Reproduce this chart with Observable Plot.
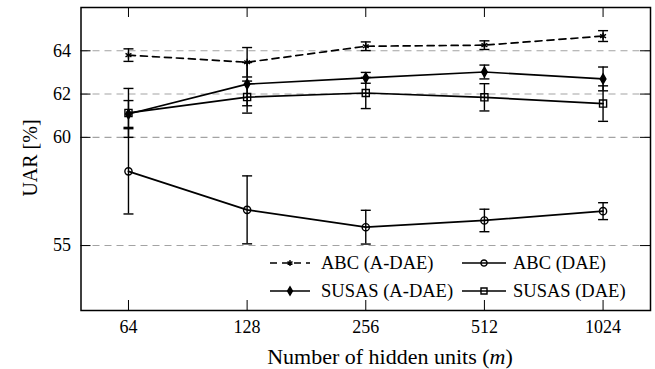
<!DOCTYPE html>
<html><head><meta charset="utf-8">
<script src="https://cdn.jsdelivr.net/npm/d3@7"></script>
<script src="https://cdn.jsdelivr.net/npm/@observablehq/plot@0.6"></script>
<style>
body{margin:0;background:#fff;}
#wrap{position:relative;width:655px;height:369px;}
#wrap svg, #wrap svg text, #wrap svg tspan{font-family:"Liberation Serif","DejaVu Serif","Times New Roman",serif !important;}
</style></head><body><div id="wrap"></div>
<script>
// ---- data ----
const hiddenUnits = [64, 128, 256, 512, 1024];
const xTicks = [64, 128, 256, 512, 1024];
const yTicks = [55, 60, 62, 64];
const seriesNames = ["ABC (A-DAE)", "ABC (DAE)", "SUSAS (A-DAE)", "SUSAS (DAE)"];
const abcADAE      = [63.80, 63.47, 64.21, 64.26, 64.68];
const abcADAEErr   = [0.29, 0.68, 0.20, 0.20, 0.25];
const abcDAE       = [58.43, 56.65, 55.85, 56.16, 56.59];
const abcDAEErr    = [1.97, 1.57, 0.78, 0.52, 0.39];
const susasADAE    = [61.08, 62.46, 62.75, 63.02, 62.70];
const susasADAEErr = [0.62, 1.00, 0.25, 0.32, 0.55];
const susasDAE     = [61.13, 61.86, 62.05, 61.85, 61.56];
const susasDAEErr  = [1.13, 0.74, 0.72, 0.63, 0.82];
const xDomain = [48.5, 1351];
const yDomain = [52, 66];

// ---- styles ----
const W = 655, H = 369, mL = 80.5, mR = 5, mT = 7, mB = 59;
const frameW = W - mL - mR, frameH = H - mT - mB;
const seriesValues = [abcADAE, abcDAE, susasADAE, susasDAE];
const seriesErrs = [abcADAEErr, abcDAEErr, susasADAEErr, susasDAEErr];
const seriesDash = ["7,5", null, null, null];
const seriesSymbol = ["asterisk", "circle", "diamond", "square"];
const seriesFill = ["none", "none", "black", "none"];
const seriesR = [3.2, 3.6, 3.0, 4.0];
const font = '"Liberation Serif","DejaVu Serif","Times New Roman",serif';

const rows = [];
seriesNames.forEach((name, s) => hiddenUnits.forEach((x, i) =>
  rows.push({series: name, s, x, y: seriesValues[s][i], err: seriesErrs[s][i]})));

const capSymbol = {draw(ctx, size) { const w = Math.sqrt(size / Math.PI); ctx.moveTo(-w, 0); ctx.lineTo(w, 0); }};

const marks = [
  Plot.gridY(yTicks, {stroke: "#a3a3a3", strokeOpacity: 1, strokeWidth: 1.1, strokeDasharray: "7,5"}),
];
seriesNames.forEach((name, s) => {
  const d = rows.filter(r => r.s === s);
  marks.push(Plot.line(d, {x: "x", y: "y", stroke: "black", strokeWidth: 1.7, strokeDasharray: seriesDash[s]}));
});
marks.push(
  Plot.ruleX(rows, {x: "x", y1: d => d.y - d.err, y2: d => d.y + d.err, stroke: "black", strokeWidth: 1.4}),
  Plot.dot(rows, {x: "x", y: d => d.y - d.err, symbol: capSymbol, r: 5, stroke: "black", strokeWidth: 1.4}),
  Plot.dot(rows, {x: "x", y: d => d.y + d.err, symbol: capSymbol, r: 5, stroke: "black", strokeWidth: 1.4})
);
seriesNames.forEach((name, s) => {
  const d = rows.filter(r => r.s === s);
  marks.push(Plot.dot(d, {x: "x", y: "y", symbol: seriesSymbol[s], r: seriesR[s], stroke: "black",
    fill: seriesFill[s], strokeWidth: 1.4}));
});
marks.push(
  Plot.tickX(xTicks, {x: d => d, insetTop: frameH - 10, stroke: "black", strokeWidth: 1}),
  Plot.tickX(xTicks, {x: d => d, insetBottom: frameH - 10, stroke: "black", strokeWidth: 1}),
  Plot.tickY(yTicks, {y: d => d, insetRight: frameW - 10, stroke: "black", strokeWidth: 1}),
  Plot.tickY(yTicks, {y: d => d, insetLeft: frameW - 10, stroke: "black", strokeWidth: 1}),
  Plot.axisX(xTicks, {anchor: "bottom", tickSize: 0, tickPadding: 10, tickFormat: d => String(d), fontSize: 18, label: null}),
  Plot.axisY(yTicks, {anchor: "left", tickSize: 0, tickPadding: 10, tickFormat: d => String(d), fontSize: 18, label: null}),
  Plot.frame({stroke: "black", strokeWidth: 1.5})
);

const chart = Plot.plot({
  width: W, height: H,
  marginLeft: mL, marginRight: mR, marginTop: mT, marginBottom: mB,
  x: {type: "log", base: 2, domain: xDomain},
  y: {domain: yDomain},
  style: {fontFamily: font, color: "black", background: "white"},
  marks
});
document.getElementById("wrap").appendChild(chart);

// ---- axis titles & legend ----
const svg = d3.select(chart);
svg.append("text").attr("transform", "translate(37,158) rotate(-90)")
  .attr("text-anchor", "middle").attr("font-size", 20).attr("fill", "black")
  .text("UAR [%]");
const xl = svg.append("text").attr("x", 390).attr("y", 364)
  .attr("text-anchor", "middle").attr("font-size", 22).attr("fill", "black");
xl.append("tspan").text("Number of hidden units (");
xl.append("tspan").attr("font-style", "italic").text("m");
xl.append("tspan").text(")");

const legendPos = [[270, 310, 321, 263], [462, 506, 513, 263], [270, 310, 321, 291], [462, 506, 513, 291]];
const d3Sym = {asterisk: d3.symbolAsterisk, circle: d3.symbolCircle, diamond: d3.symbolDiamond, square: d3.symbolSquare};
const lg = svg.append("g");
seriesNames.forEach((name, s) => {
  const [x1, x2, tx, y] = legendPos[s];
  lg.append("line").attr("x1", x1).attr("x2", x2).attr("y1", y).attr("y2", y)
    .attr("stroke", "black").attr("stroke-width", 1.6).attr("stroke-dasharray", seriesDash[s]);
  const r = seriesR[s] * 0.85;
  lg.append("path").attr("transform", `translate(${(x1 + x2) / 2},${y})`)
    .attr("d", d3.symbol(d3Sym[seriesSymbol[s]], Math.PI * r * r)())
    .attr("fill", seriesFill[s]).attr("stroke", "black").attr("stroke-width", 1.4);
  lg.append("text").attr("x", tx).attr("y", y).attr("dy", "0.35em").attr("font-size", 18.5)
    .attr("text-anchor", "start").attr("fill", "black").text(name);
});
</script></body></html>
